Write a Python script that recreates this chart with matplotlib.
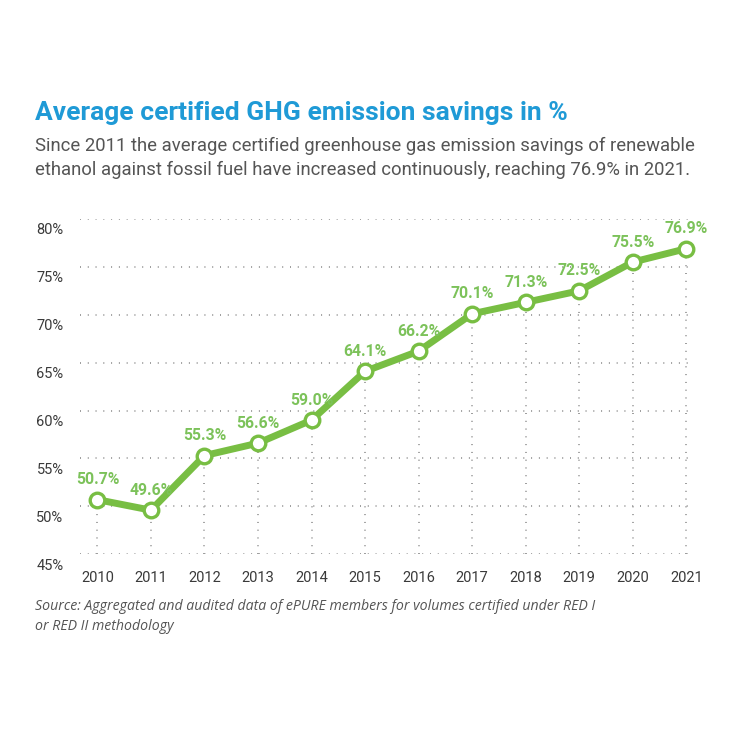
import matplotlib.pyplot as plt
from matplotlib.transforms import ScaledTranslation

# data
years = [2010, 2011, 2012, 2013, 2014, 2015, 2016, 2017, 2018, 2019, 2020, 2021]
savings = [50.7, 49.6, 55.3, 56.6, 59.0, 64.1, 66.2, 70.1, 71.3, 72.5, 75.5, 76.9]
yticks = [45, 50, 55, 60, 65, 70, 75, 80]

green = '#78be43'
label_green = '#7cc25a'
grid_gray = '#9a9a9a'

plt.rcParams['font.family'] = ['Roboto', 'DejaVu Sans']

fig = plt.figure(figsize=(7.5, 7.5), dpi=100)
ax = fig.add_axes([0.107, 0.261, 0.813, 0.447])

# dotted grid: horizontal lines across, vertical lines from point down to bottom
for t in yticks:
    ax.axhline(t, color=grid_gray, lw=1.4, ls=(0, (0.5, 3.5)), zorder=1)
ax.vlines(years, 45, savings, color=grid_gray, lw=1.4, ls=(0, (0.5, 3.5)), zorder=1)

ax.plot(years, savings, color=green, lw=5, marker='o', markersize=10.5,
        markerfacecolor='white', markeredgecolor=green, markeredgewidth=2.4,
        zorder=3, clip_on=False)

for x, v in zip(years, savings):
    ax.annotate("%.1f%%" % v, xy=(x, v), xytext=(0, 9), textcoords='offset points',
                ha='center', va='bottom', color=label_green, fontsize=11.3,
                fontweight='bold')

ax.set_xlim(2009.68, 2021.07)
ax.set_ylim(45, 80)
ax.set_xticks(years)
ax.set_yticks(yticks)
ax.set_yticklabels(["%d%%" % t for t in yticks])
ax.tick_params(length=0, labelsize=10.5, labelcolor='#3a3a3a')
ax.tick_params(axis='y', pad=12)
ax.tick_params(axis='x', pad=12)
# y labels sit a little below their grid lines
shift = ScaledTranslation(0, -0.1, fig.dpi_scale_trans)
for lab in ax.get_yticklabels():
    lab.set_transform(lab.get_transform() + shift)
for s in ax.spines.values():
    s.set_visible(False)

fig.text(0.047, 0.849, "Average certified GHG emission savings in %", color='#1f9ad6',
         fontsize=19, fontweight='bold', va='center')
fig.text(0.047, 0.805, "Since 2011 the average certified greenhouse gas emission savings of renewable",
         color='#555555', fontsize=13.35, va='center')
fig.text(0.047, 0.773, "ethanol against fossil fuel have increased continuously, reaching 76.9% in 2021.",
         color='#555555', fontsize=13.35, va='center')
fig.text(0.047, 0.191, "Source: Aggregated and audited data of ePURE members for volumes certified under RED I",
         color='#555555', fontsize=10.2, style='italic', va='center', family=['Open Sans', 'DejaVu Sans'])
fig.text(0.047, 0.165, "or RED II methodology",
         color='#555555', fontsize=10.2, style='italic', va='center', family=['Open Sans', 'DejaVu Sans'])

plt.savefig('out.png', dpi=100, facecolor='white')
